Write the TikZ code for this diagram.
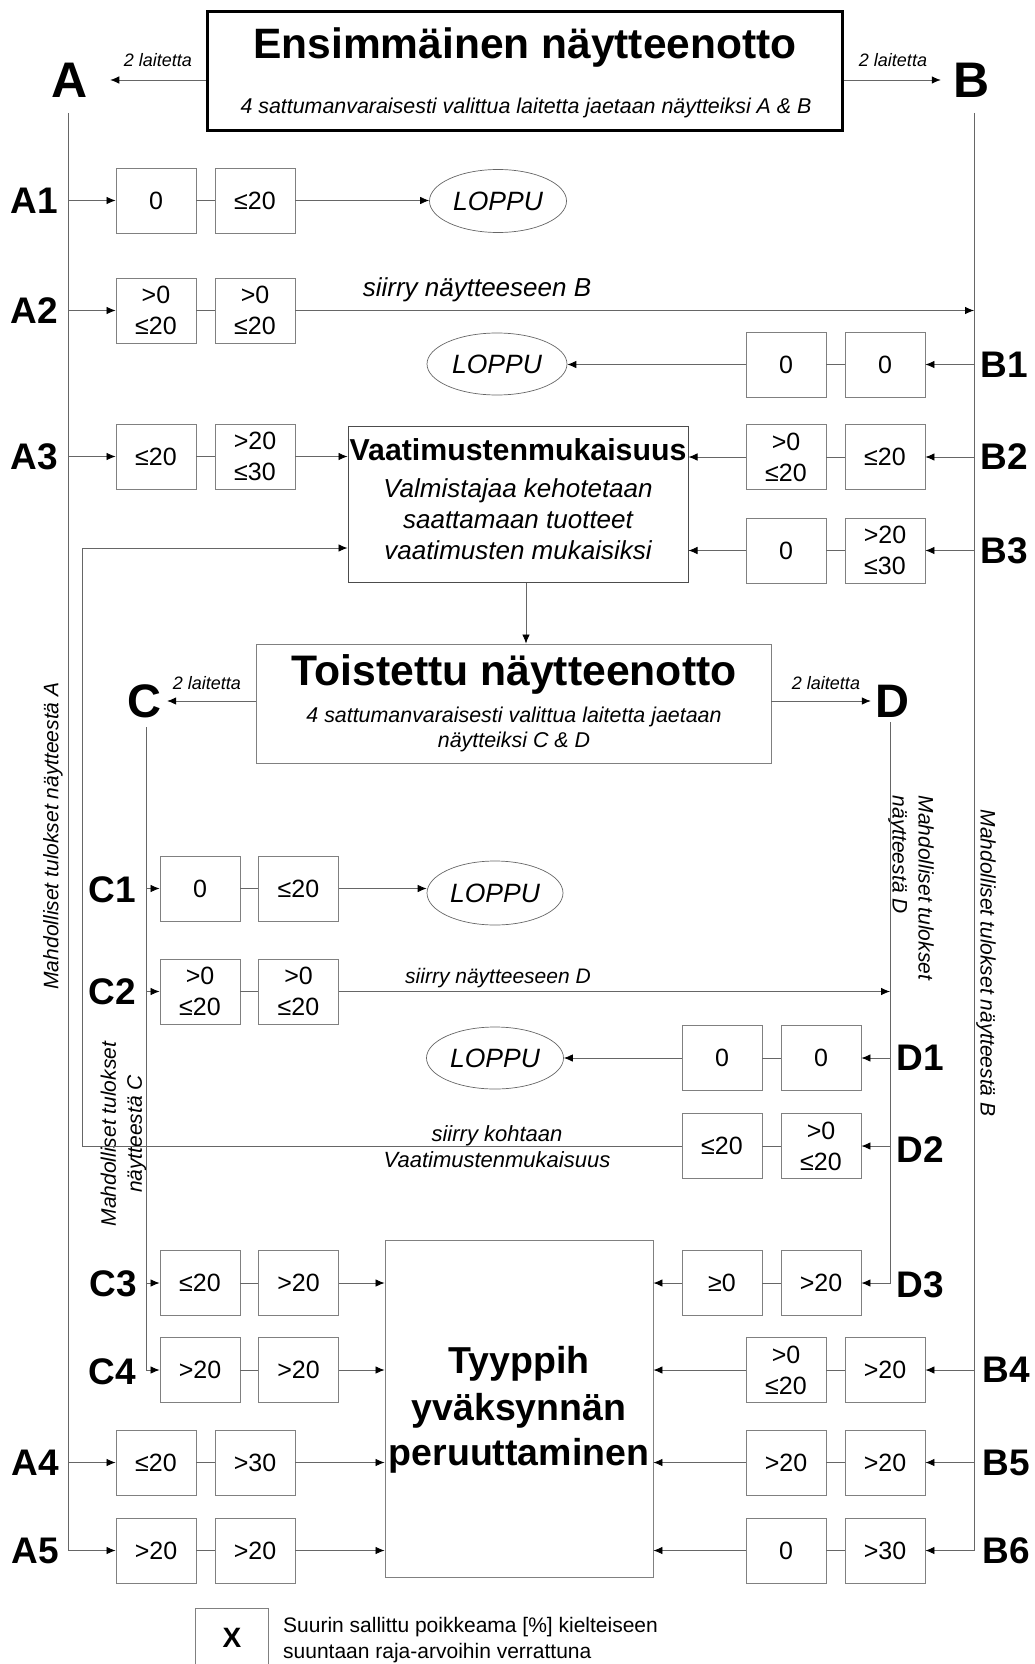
\documentclass[tikz,border=0pt]{standalone}
\usepackage{fontspec}
\setmainfont{Liberation Sans}
\usetikzlibrary{arrows.meta,shapes.geometric}
\newcommand{\myfs}[2]{\fontsize{#1}{#2}\selectfont}
\tikzset{
  valbox/.style={draw=black!50, line width=0.9pt, minimum width=80pt, minimum height=65pt, inner sep=0pt, align=center, font=\myfs{25}{31}},
  conn/.style={draw=black!60, line width=0.8pt},
  arr/.style={conn, -{Latex[length=9pt,width=7.5pt,color=black]}},
  lbl/.style={font=\bfseries\myfs{37}{37}, inner sep=0pt},
  bigl/.style={font=\bfseries\myfs{50}{50}, inner sep=0pt},
  bigc/.style={font=\bfseries\myfs{47}{47}, inner sep=0pt},
  loppu/.style={ellipse, draw=black!60, line width=0.7pt, minimum width=137pt, minimum height=63pt, inner sep=0pt, font=\itshape\myfs{26.5}{26.5}},
  rot/.style={font=\itshape\myfs{21}{26}, inner sep=0pt},
  small/.style={anchor=base, inner sep=0pt, font=\itshape\myfs{18}{18}},
  bigbox/.style={draw=black!50, line width=0.9pt, inner sep=0pt},
  txt/.style={anchor=base, inner sep=0pt}
}
\begin{document}
\begin{tikzpicture}[x=1pt,y=-1pt]
\useasboundingbox (0,0) rectangle (1034,1664);

% ---- first sampling
\node[draw=black, line width=3pt, minimum width=635pt, minimum height=119pt, inner sep=0pt] (top) at (524.5,71.5) {};
\node[txt, font=\bfseries\myfs{42.5}{42.5}] (toptitle) at (525,59) {Ensimmäinen näytteenotto};
\node[txt, font=\itshape\myfs{21.4}{21.4}] (topsub) at (526,114) {4 sattumanvaraisesti valittua laitetta jaetaan näytteiksi A \& B};
\node[bigl] (A) at (70,80) {A};
\node[bigl] (B) at (972,80) {B};
\draw[arr] (top.west |- A) -- ([xshift=22pt]A.east);
\draw[arr] (top.east |- B) -- ([xshift=-13pt]B.west);
\node[small] (la) at (158,67) {2 laitetta};
\node[small] (lb) at (893,67) {2 laitetta};

\coordinate (Atop) at (68,113);
\coordinate (Btop) at (974,113);

% ---- A rows
\node[lbl] (A1) at (34,200.5) {A1};
\node[valbox] (a1a) at (156,200.5) {0};
\node[valbox] (a1b) at (255,200.5) {≤20};
\node[loppu] (l1) at (498,201) {LOPPU};

\node[lbl] (A2) at (34,310.5) {A2};
\node[valbox] (a2a) at (156,310.5) {>0\\≤20};
\node[valbox] (a2b) at (255,310.5) {>0\\≤20};
\node[txt, font=\itshape\myfs{26}{26}] (s1) at (477,296) {siirry näytteeseen B};

\node[lbl] (B1) at (1004,364.5) {B1};
\node[valbox] (b1a) at (786,364.5) {0};
\node[valbox] (b1b) at (885,364.5) {0};
\node[loppu, minimum width=140pt, minimum height=62pt] (l2) at (497,364) {LOPPU};

\node[lbl] (A3) at (34,456.5) {A3};
\node[valbox] (a3a) at (156,456.5) {≤20};
\node[valbox] (a3b) at (255,456.5) {>20\\≤30};

\node[draw=black!70, line width=1pt, minimum width=340pt, minimum height=156pt, inner sep=0pt] (vaat) at (518,504) {};
\node[txt, font=\bfseries\myfs{30.3}{30.3}] (vt) at (518,460) {Vaatimustenmukaisuus};
\node[txt, font=\itshape\myfs{26}{26}] (v1) at (518,497) {Valmistajaa kehotetaan};
\node[txt, font=\itshape\myfs{26}{26}] (v2) at (518,528) {saattamaan tuotteet};
\node[txt, font=\itshape\myfs{26}{26}] (v3) at (518,559) {vaatimusten mukaisiksi};

\node[lbl] (B2) at (1004,457) {B2};
\node[valbox] (b2a) at (786,457) {>0\\≤20};
\node[valbox] (b2b) at (885,457) {≤20};
\node[lbl] (B3) at (1004,550.5) {B3};
\node[valbox] (b3a) at (786,550.5) {0};
\node[valbox] (b3b) at (885,550.5) {>20\\≤30};

% ---- repeated sampling
\node[bigbox, minimum width=515pt, minimum height=119pt] (toist) at (513.5,703.5) {};
\node[txt, font=\bfseries\myfs{42.7}{42.7}] (tt) at (514,685) {Toistettu näytteenotto};
\node[txt, font=\itshape\myfs{21.4}{21.4}] (ts1) at (514,722) {4 sattumanvaraisesti valittua laitetta jaetaan};
\node[txt, font=\itshape\myfs{21.4}{21.4}] (ts2) at (514,747) {näytteiksi C \& D};
\node[bigc] (C) at (144,701) {C};
\node[bigc] (D) at (892,701) {D};
\draw[arr] (toist.west |- C) -- ([xshift=6pt]C.east);
\draw[arr] (toist.east |- D) -- ([xshift=-4pt]D.west);
\node[small] (lc) at (207,689) {2 laitetta};
\node[small] (ld) at (826,689) {2 laitetta};

\coordinate (Ctop) at (146,727);
\coordinate (Dtop) at (890,722);

\node[lbl] (C1) at (112,890) {C1};
\node[valbox] (c1a) at (200,888.5) {0};
\node[valbox] (c1b) at (298.5,888.5) {≤20};
\node[loppu, minimum width=136pt, minimum height=64pt] (l3) at (495,893) {LOPPU};

\node[lbl] (C2) at (112,992) {C2};
\node[valbox] (c2a) at (200,991.5) {>0\\≤20};
\node[valbox] (c2b) at (298.5,991.5) {>0\\≤20};
\node[txt, font=\itshape\myfs{21}{21}] (s2) at (498,983) {siirry näytteeseen D};

\node[lbl] (D1) at (920,1058) {D1};
\node[valbox] (d1a) at (722,1058) {0};
\node[valbox] (d1b) at (821,1058) {0};
\node[loppu, minimum width=137pt, minimum height=62pt] (l4) at (495,1058) {LOPPU};

\node[lbl] (D2) at (920,1150) {D2};
\node[valbox] (d2a) at (722,1146) {≤20};
\node[valbox] (d2b) at (821,1146) {>0\\≤20};
\node[txt, font=\itshape\myfs{22}{22}] (s3) at (497,1141) {siirry kohtaan};
\node[txt, font=\itshape\myfs{22}{22}] (s4) at (497,1167) {Vaatimustenmukaisuus};
\coordinate (loopL) at (82,548);

\node[lbl] (C3) at (113,1284) {C3};
\node[valbox] (c3a) at (200,1283) {≤20};
\node[valbox] (c3b) at (298.5,1283) {>20};
\node[lbl] (C4) at (112,1372) {C4};
\node[valbox] (c4a) at (200,1370) {>20};
\node[valbox] (c4b) at (298.5,1370) {>20};

\node[lbl] (A4) at (35,1463) {A4};
\node[valbox] (a4a) at (156,1462.5) {≤20};
\node[valbox] (a4b) at (255,1462.5) {>30};
\node[lbl] (A5) at (35,1551) {A5};
\node[valbox] (a5a) at (156,1550.5) {>20};
\node[valbox] (a5b) at (255,1550.5) {>20};

\node[lbl] (D3) at (920,1285) {D3};
\node[valbox] (d3a) at (722,1283) {≥0};
\node[valbox] (d3b) at (821,1283) {>20};
\node[lbl] (B4) at (1006,1370) {B4};
\node[valbox] (b4a) at (786,1370) {>0\\≤20};
\node[valbox] (b4b) at (885,1370) {>20};
\node[lbl] (B5) at (1006,1463) {B5};
\node[valbox] (b5a) at (786,1462.5) {>20};
\node[valbox] (b5b) at (885,1462.5) {>20};
\node[lbl] (B6) at (1006,1551) {B6};
\node[valbox] (b6a) at (786,1550.5) {0};
\node[valbox] (b6b) at (885,1550.5) {>30};

\node[bigbox, minimum width=268pt, minimum height=337pt] (tyy) at (519,1408.5) {};
\node[txt, font=\bfseries\myfs{37.5}{37.5}] (ty1) at (519,1373) {Tyyppih};
\node[txt, font=\bfseries\myfs{37.5}{37.5}] (ty2) at (519,1420) {yväksynnän};
\node[txt, font=\bfseries\myfs{37.5}{37.5}] (ty3) at (519,1465) {peruuttaminen};

% ---- rotated captions
\node[rot, rotate=90] (rA) at (53,836) {Mahdolliset tulokset näytteestä A};
\node[rot, rotate=-90] (rB) at (986,963) {Mahdolliset tulokset näytteestä B};
\node[rot, rotate=90, align=center] (rC) at (123.5,1134) {Mahdolliset tulokset\\näytteestä C};
\node[rot, rotate=-90, align=left] (rD) at (911,888) {Mahdolliset tulokset\\näytteestä D};

% ---- legend
\node[bigbox, minimum width=73pt, minimum height=76pt] (leg) at (231.5,1646) {};
\node[font=\bfseries\myfs{28}{28}, inner sep=0pt] (X) at (232,1638) {X};
\node[anchor=base west, inner sep=0pt, font=\myfs{21}{21}] (lt1) at (283,1632) {Suurin sallittu poikkeama [\%] kielteiseen};
\node[anchor=base west, inner sep=0pt, font=\myfs{21}{21}] (lt2) at (283,1658) {suuntaan raja-arvoihin verrattuna};

% ---- connectors
% A trunk
\draw[arr] (Atop) |- (a5a.west);
\foreach \r in {a1a,a2a,a3a,a4a} \draw[arr] (Atop |- \r.west) -- (\r.west);
% B trunk
\draw[arr] (Btop) |- (b6b.east);
\foreach \r in {b1b,b2b,b3b,b4b,b5b} \draw[arr] (Btop |- \r.east) -- (\r.east);
% C trunk
\draw[arr] (Ctop) |- (c4a.west);
\foreach \r in {c1a,c2a,c3a} \draw[arr] (Ctop |- \r.west) -- (\r.west);
% D trunk
\draw[arr] (Dtop) |- (d3b.east);
\foreach \r in {d1b,d2b} \draw[arr] (Dtop |- \r.east) -- (\r.east);
% pair links
\foreach \p/\q in {a1a/a1b,a2a/a2b,a3a/a3b,a4a/a4b,a5a/a5b,b1a/b1b,b2a/b2b,b3a/b3b,b4a/b4b,b5a/b5b,b6a/b6b,c1a/c1b,c2a/c2b,c3a/c3b,c4a/c4b,d1a/d1b,d2a/d2b,d3a/d3b}
  \draw[conn] (\p.east) -- (\q.west);
% outcomes
\draw[arr] (a1b.east) -- (l1.west |- a1b.east);
\draw[arr] (a2b.east) -- (Btop |- a2b.east);
\draw[arr] (b1a.west) -- (l2.east |- b1a.west);
\draw[arr] (a3b.east) -- (vaat.west |- a3b.east);
\draw[arr] (b2a.west) -- (vaat.east |- b2a.west);
\draw[arr] (b3a.west) -- (vaat.east |- b3a.west);
\draw[arr] ([xshift=8pt]vaat.south) -- ([xshift=8pt]vaat.south |- toist.north);
\draw[arr] (c1b.east) -- (l3.west |- c1b.east);
\draw[arr] (c2b.east) -- (Dtop |- c2b.east);
\draw[arr] (d1a.west) -- (l4.east |- d1a.west);
\draw[arr] (d2a.west) -| (loopL) -- (vaat.west |- loopL);
\foreach \r in {c3b,c4b,a4b,a5b} \draw[arr] (\r.east) -- (tyy.west |- \r.east);
\foreach \r in {d3a,b4a,b5a,b6a} \draw[arr] (\r.west) -- (tyy.east |- \r.west);
\end{tikzpicture}
\end{document}
